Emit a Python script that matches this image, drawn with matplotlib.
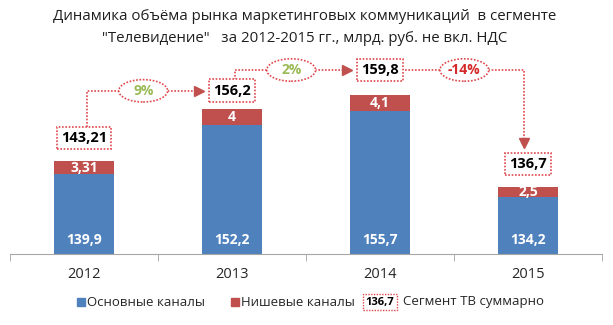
import matplotlib
matplotlib.use('Agg')
import matplotlib.pyplot as plt
from matplotlib.patches import Rectangle, Ellipse
import numpy as np

plt.rcParams['font.family'] = ['Open Sans', 'DejaVu Sans']

# data
years = ['2012', '2013', '2014', '2015']
main_channels = [139.9, 152.2, 155.7, 134.2]
niche_channels = [3.31, 4, 4.1, 2.5]
totals = [143.21, 156.2, 159.8, 136.7]
main_labels = ['139,9', '152,2', '155,7', '134,2']
niche_labels = ['3,31', '4', '4,1', '2,5']
total_labels = ['143,21', '156,2', '159,8', '136,7']

blue = '#4F81BD'
red = '#C0504D'
dot_red = '#E0474C'
green = '#9BBB59'
neg_red = '#D42A2A'

fig = plt.figure(figsize=(6.13, 3.25), dpi=100)
ax = fig.add_axes([10 / 613, 1 - 254 / 325, 592 / 613, 200 / 325])

x = np.arange(len(years))
ax.bar(x, main_channels, width=0.4, color=blue, zorder=2)
ax.bar(x, niche_channels, width=0.4, bottom=main_channels, color=red, zorder=2)
ax.set_xlim(-0.5, 3.5)
ax.set_ylim(120, 170)

# axis styling
for s in ['top', 'right', 'left']:
    ax.spines[s].set_visible(False)
ax.spines['bottom'].set_color('#A6A6A6')
ax.set_yticks([])
ax.set_xticks(x)
ax.set_xticklabels(years, fontsize=10.5, color='#262626')
ax.tick_params(axis='x', which='major', length=0, pad=9)
ax.set_xticks(np.arange(-0.5, 4, 1), minor=True)
ax.tick_params(axis='x', which='minor', length=5, color='#A6A6A6')

# values inside bars
for i in range(len(years)):
    ax.text(x[i], 123.5, main_labels[i], ha='center', va='center',
            color='white', fontsize=10, fontweight='bold', zorder=3)
    ax.text(x[i], main_channels[i] + niche_channels[i] / 2, niche_labels[i],
            ha='center', va='center', color='white', fontsize=10,
            fontweight='bold', zorder=3)

# total boxes
box_lift = [5.8, 4.6, 6.2, 5.8]
box_y = [totals[i] + box_lift[i] for i in range(len(years))]
for i in range(len(years)):
    ax.text(x[i], box_y[i], total_labels[i], ha='center', va='center',
            fontsize=10.5, fontweight='bold', color='black', zorder=5,
            bbox=dict(boxstyle='square,pad=0.3', fc='white', ec=dot_red,
                      ls=(0, (1, 1)), lw=1.2))

# connectors with growth
bw = 0.16
bh = 2.7
for i in range(len(years) - 1):
    g = totals[i + 1] / totals[i] - 1
    glabel = '%d%%' % round(g * 100)
    if g >= 0:
        xs = [x[i] + 0.02, x[i] + 0.02, x[i + 1] - bw - 0.06]
        ys = [box_y[i] + bh, box_y[i + 1], box_y[i + 1]]
        marker = '>'
        col = green
    else:
        xs = [x[i] + bw + 0.01, x[i + 1] - 0.03, x[i + 1] - 0.03]
        ys = [box_y[i], box_y[i], box_y[i + 1] + bh + 2.6]
        marker = 'v'
        col = neg_red
    ax.plot(xs, ys, color=dot_red, lw=1.2, ls=(0, (1, 1)), zorder=4,
            clip_on=False)
    ax.plot(xs[-1], ys[-1], marker=marker, color=red, markersize=7,
            zorder=4, clip_on=False)
    if g >= 0:
        mx = (xs[1] + xs[2]) / 2
        my = ys[1]
    else:
        mx = (xs[0] + xs[1]) / 2
        my = ys[0]
    ax.add_patch(Ellipse((mx, my), 0.33, 5.6, fc='white', ec=dot_red,
                         ls=(0, (1, 1)), lw=1.2, zorder=5, clip_on=False))
    ax.text(mx, my, glabel, ha='center', va='center', fontsize=10,
            fontweight='bold', color=col, zorder=6)

# title
fig.text(0.497, 1 - 17 / 325, 'Динамика объёма рынка маркетинговых коммуникаций  в сегменте',
         ha='center', va='center', fontsize=10.8, color='#1F1F1F')
fig.text(0.497, 1 - 38 / 325, '"Телевидение"   за 2012-2015 гг., млрд. руб. не вкл. НДС',
         ha='center', va='center', fontsize=10.8, color='#1F1F1F')

# legend
ly = 1 - 302 / 325
fig.add_artist(Rectangle((77 / 613, ly - 4 / 325), 8 / 613, 8 / 325,
                         transform=fig.transFigure, color=blue))
fig.text(87 / 613, ly, 'Основные каналы', ha='left', va='center',
         fontsize=9.5, color='#262626')
fig.add_artist(Rectangle((231 / 613, ly - 4 / 325), 8 / 613, 8 / 325,
                         transform=fig.transFigure, color=red))
fig.text(241 / 613, ly, 'Нишевые каналы', ha='left', va='center',
         fontsize=9.5, color='#262626')
fig.text(380 / 613, ly, '136,7', ha='center', va='center', fontsize=8,
         fontweight='bold', color='black',
         bbox=dict(boxstyle='square,pad=0.25', fc='white', ec=dot_red,
                   ls=(0, (1, 1)), lw=1.0))
fig.text(403 / 613, ly, 'Сегмент ТВ суммарно', ha='left', va='center',
         fontsize=9.5, color='#262626')

fig.savefig('out.png', dpi=100)
